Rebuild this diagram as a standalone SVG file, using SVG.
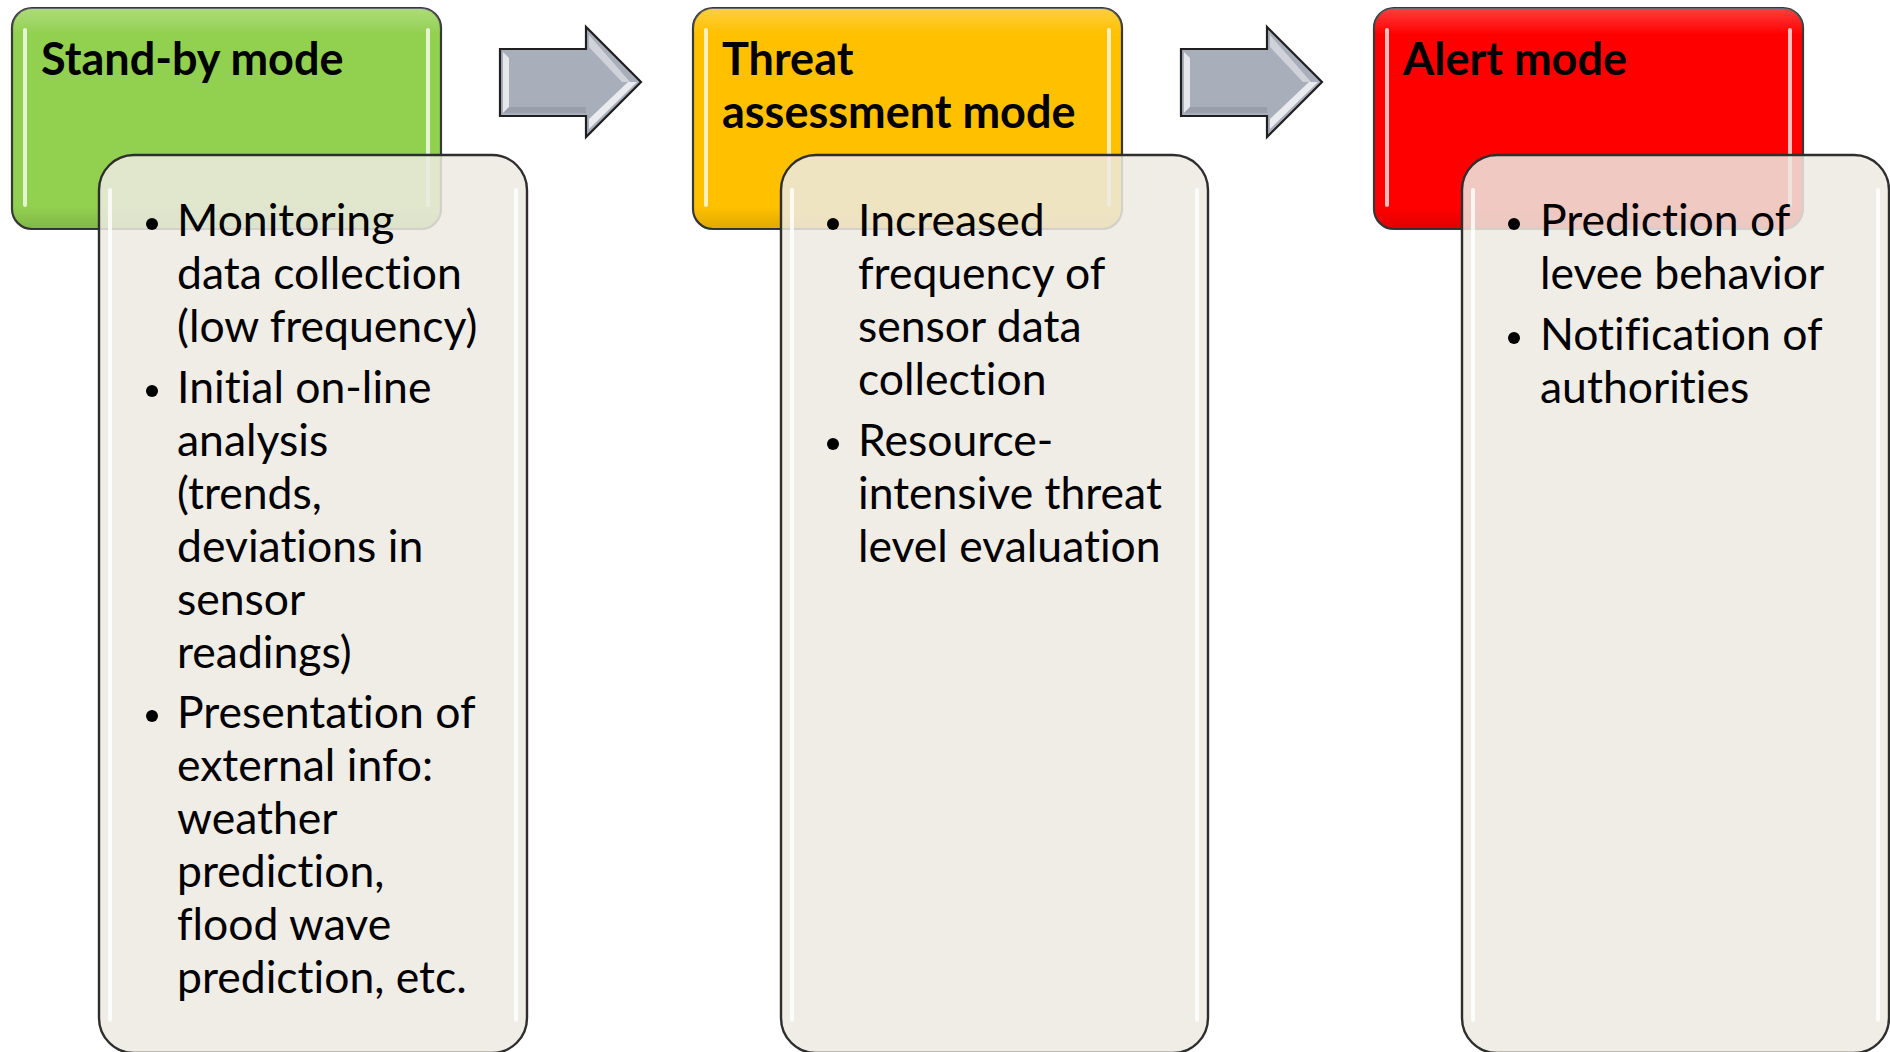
<svg xmlns="http://www.w3.org/2000/svg" width="1890" height="1052" viewBox="0 0 1890 1052">
  <style>
    .head { stroke: #383838; stroke-width: 2.2; }
    .card { fill: #ECEAE2; fill-opacity: 0.86; stroke: #2e2e2e; stroke-width: 2.4; }
    .title { font-family: Lato, "Open Sans", sans-serif; font-weight: 700; font-size: 45px; fill: #000; font-variant-ligatures: none; }
    .body { font-family: Lato, "Open Sans", sans-serif; font-size: 44.5px; fill: #000; font-variant-ligatures: none; }
    .shine { stroke: #ffffff; stroke-width: 4; stroke-linecap: round; fill: none; }
    .cardshine { stroke: #ffffff; stroke-width: 4; stroke-linecap: round; fill: none; opacity: 0.8; }
    .arrow { fill: #A9AEBB; stroke: #1f1f1f; stroke-width: 2.2; stroke-linejoin: miter; }
    .bullet { fill: #000; }
  </style>
  <defs>
    <linearGradient id="sheen" x1="0" y1="0" x2="0" y2="1">
      <stop offset="0" stop-color="#ffffff" stop-opacity="0.25"/>
      <stop offset="0.12" stop-color="#ffffff" stop-opacity="0"/>
      <stop offset="0.9" stop-color="#000000" stop-opacity="0"/>
      <stop offset="1" stop-color="#000000" stop-opacity="0.12"/>
    </linearGradient>
    <g id="arrowShape">
      <polygon class="arrow" points="0,22 86,22 86,0 141,55 86,110 86,89 0,89"/>
      <!-- bevel lights -->
      <polygon points="3,25 9,31 9,80 3,86" fill="#ffffff" opacity="0.7"/>
      <polygon points="89,8 130,55 122,55 89,20" fill="#ffffff" opacity="0.45"/>
      <polygon points="89,102 137,55 128,55 89,92" fill="#ffffff" opacity="0.75"/>
      <polygon points="3,86 9,80 86,80 86,86" fill="#7d8290" opacity="0.35"/>
    </g>
  </defs>

  <!-- Stand-by mode -->
  <g id="standby-head">
    <rect class="head" x="12" y="8" width="429" height="221" rx="20" fill="#92D050"/>
    <rect x="12" y="8" width="429" height="221" rx="20" fill="url(#sheen)"/>
    <line class="shine" x1="25" y1="30" x2="25" y2="205" opacity="0.75"/>
    <line class="shine" x1="428" y1="30" x2="428" y2="205" opacity="0.75"/>
    <text class="title" x="41" y="75">Stand-by mode</text>
  </g>

  <!-- Threat assessment mode -->
  <g id="threat-head">
    <rect class="head" x="693" y="8" width="429" height="221" rx="20" fill="#FFC000"/>
    <rect x="693" y="8" width="429" height="221" rx="20" fill="url(#sheen)"/>
    <line class="shine" x1="706" y1="30" x2="706" y2="205" opacity="0.75"/>
    <line class="shine" x1="1109" y1="30" x2="1109" y2="205" opacity="0.75"/>
    <text class="title" x="722" y="75">Threat</text>
    <text class="title" x="722" y="128">assessment mode</text>
  </g>

  <!-- Alert mode -->
  <g id="alert-head">
    <rect class="head" x="1374" y="8" width="429" height="221" rx="20" fill="#FF0000"/>
    <rect x="1374" y="8" width="429" height="221" rx="20" fill="url(#sheen)"/>
    <line class="shine" x1="1387" y1="30" x2="1387" y2="205" opacity="0.75"/>
    <line class="shine" x1="1790" y1="30" x2="1790" y2="205" opacity="0.75"/>
    <text class="title" x="1403" y="75">Alert mode</text>
  </g>

  <!-- connectors between the mode headers -->
  <g id="connectors">
    <use href="#arrowShape" x="500" y="27"/>
    <use href="#arrowShape" x="1181" y="27"/>
  </g>

  <!-- Stand-by mode tasks -->
  <g id="standby-card">
    <rect class="card" x="99" y="155" width="428" height="898" rx="35"/>
    <line class="cardshine" x1="110" y1="190" x2="110" y2="1020"/>
    <line class="cardshine" x1="516" y1="190" x2="516" y2="1020"/>
    <circle class="bullet" cx="152" cy="224" r="6"/>
    <text class="body" x="177" y="236">Monitoring</text>
    <text class="body" x="177" y="289">data collection</text>
    <text class="body" x="177" y="342">(low frequency)</text>
    <circle class="bullet" cx="152" cy="391" r="6"/>
    <text class="body" x="177" y="403">Initial on-line</text>
    <text class="body" x="177" y="456">analysis</text>
    <text class="body" x="177" y="509">(trends,</text>
    <text class="body" x="177" y="562">deviations in</text>
    <text class="body" x="177" y="615">sensor</text>
    <text class="body" x="177" y="668">readings)</text>
    <circle class="bullet" cx="152" cy="716" r="6"/>
    <text class="body" x="177" y="728">Presentation of</text>
    <text class="body" x="177" y="781">external info:</text>
    <text class="body" x="177" y="834">weather</text>
    <text class="body" x="177" y="887">prediction,</text>
    <text class="body" x="177" y="940">flood wave</text>
    <text class="body" x="177" y="993">prediction, etc.</text>
  </g>

  <!-- Threat assessment tasks -->
  <g id="threat-card">
    <rect class="card" x="781" y="155" width="427" height="898" rx="35"/>
    <line class="cardshine" x1="792" y1="190" x2="792" y2="1020"/>
    <line class="cardshine" x1="1197" y1="190" x2="1197" y2="1020"/>
    <circle class="bullet" cx="833" cy="224" r="6"/>
    <text class="body" x="858" y="236">Increased</text>
    <text class="body" x="858" y="289">frequency of</text>
    <text class="body" x="858" y="342">sensor data</text>
    <text class="body" x="858" y="395">collection</text>
    <circle class="bullet" cx="833" cy="444" r="6"/>
    <text class="body" x="858" y="456">Resource-</text>
    <text class="body" x="858" y="509">intensive threat</text>
    <text class="body" x="858" y="562">level evaluation</text>
  </g>

  <!-- Alert tasks -->
  <g id="alert-card">
    <rect class="card" x="1462" y="155" width="427" height="898" rx="35"/>
    <line class="cardshine" x1="1473" y1="190" x2="1473" y2="1020"/>
    <line class="cardshine" x1="1878" y1="190" x2="1878" y2="1020"/>
    <circle class="bullet" cx="1514" cy="224" r="6"/>
    <text class="body" x="1540" y="236">Prediction of</text>
    <text class="body" x="1540" y="289">levee behavior</text>
    <circle class="bullet" cx="1514" cy="338" r="6"/>
    <text class="body" x="1540" y="350">Notification of</text>
    <text class="body" x="1540" y="403">authorities</text>
  </g>
</svg>
